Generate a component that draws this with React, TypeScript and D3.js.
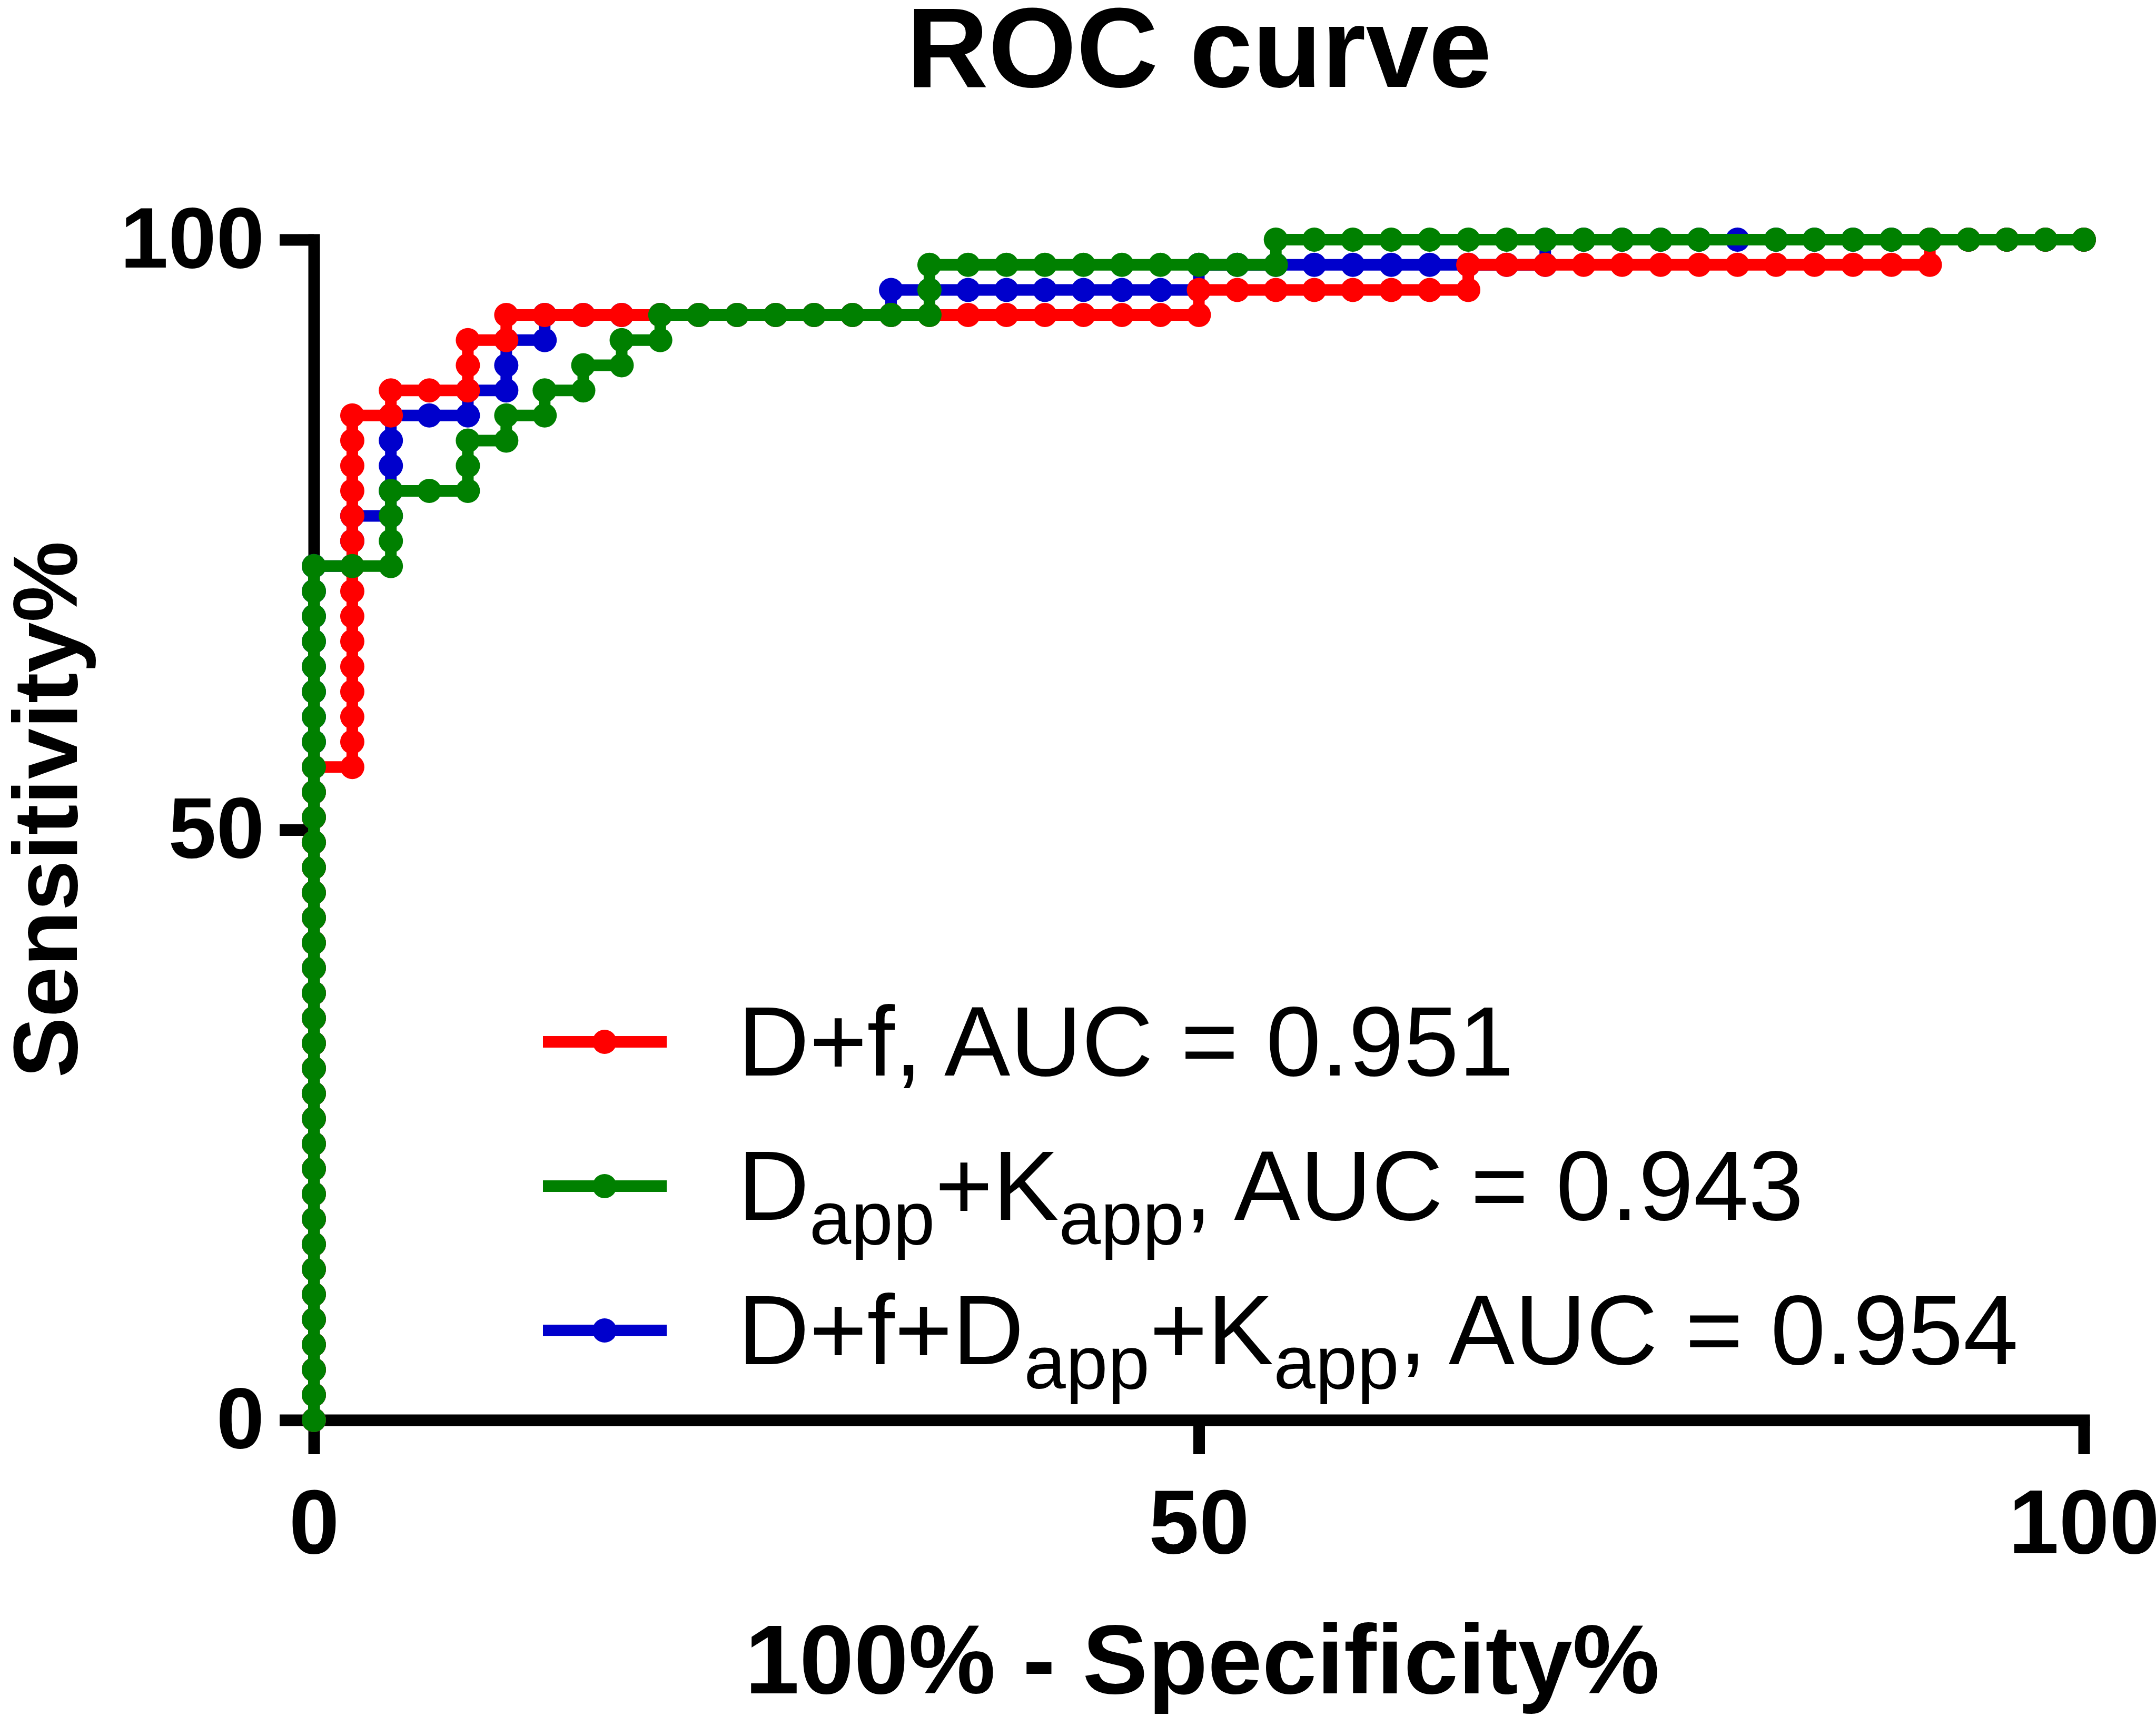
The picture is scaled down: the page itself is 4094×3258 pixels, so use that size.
import { useEffect, useRef } from 'react';
import * as d3 from 'd3';

type Pt = [number, number]; // [100% - Specificity%, Sensitivity%]

const WIDTH = 4094;
const HEIGHT = 3258;
const FONT = 'Liberation Sans, Arial, Helvetica, sans-serif';

const xTicks = [0, 50, 100];
const yTicks = [0, 50, 100];

// D+f (red)
const dfPoints: Pt[] = [
  [0, 0], [0, 2.13], [0, 4.26], [0, 6.38], [0, 8.51], [0, 10.64], [0, 12.77], [0, 14.89], [0, 17.02],
  [0, 19.15], [0, 21.28], [0, 23.4], [0, 25.53], [0, 27.66], [0, 29.79], [0, 31.91], [0, 34.04],
  [0, 36.17], [0, 38.3], [0, 40.43], [0, 42.55], [0, 44.68], [0, 46.81], [0, 48.94], [0, 51.06],
  [0, 53.19], [0, 55.32],
  [2.17, 55.32], [2.17, 57.45], [2.17, 59.57], [2.17, 61.7], [2.17, 63.83], [2.17, 65.96], [2.17, 68.09],
  [2.17, 70.21], [2.17, 72.34], [2.17, 74.47], [2.17, 76.6], [2.17, 78.72], [2.17, 80.85], [2.17, 82.98],
  [2.17, 85.11],
  [4.35, 85.11], [4.35, 87.23], [6.52, 87.23], [8.7, 87.23], [8.7, 89.36], [8.7, 91.49],
  [10.87, 91.49], [10.87, 93.62],
  [13.04, 93.62], [15.22, 93.62], [17.39, 93.62], [19.57, 93.62], [21.74, 93.62], [23.91, 93.62],
  [26.09, 93.62], [28.26, 93.62], [30.43, 93.62], [32.61, 93.62], [34.78, 93.62], [36.96, 93.62],
  [39.13, 93.62], [41.3, 93.62], [43.48, 93.62], [45.65, 93.62], [47.83, 93.62], [50.0, 93.62],
  [50.0, 95.74], [52.17, 95.74], [54.35, 95.74], [56.52, 95.74], [58.7, 95.74], [60.87, 95.74],
  [63.04, 95.74], [65.22, 95.74],
  [65.22, 97.87], [67.39, 97.87], [69.57, 97.87], [71.74, 97.87], [73.91, 97.87], [76.09, 97.87],
  [78.26, 97.87], [80.43, 97.87], [82.61, 97.87], [84.78, 97.87], [86.96, 97.87], [89.13, 97.87],
  [91.3, 97.87],
  [91.3, 100], [93.48, 100], [95.65, 100], [97.83, 100], [100, 100],
];

// Dapp+Kapp (green)
const dappKappPoints: Pt[] = [
  [0, 0], [0, 2.13], [0, 4.26], [0, 6.38], [0, 8.51], [0, 10.64], [0, 12.77], [0, 14.89], [0, 17.02],
  [0, 19.15], [0, 21.28], [0, 23.4], [0, 25.53], [0, 27.66], [0, 29.79], [0, 31.91], [0, 34.04],
  [0, 36.17], [0, 38.3], [0, 40.43], [0, 42.55], [0, 44.68], [0, 46.81], [0, 48.94], [0, 51.06],
  [0, 53.19], [0, 55.32], [0, 57.45], [0, 59.57], [0, 61.7], [0, 63.83], [0, 65.96], [0, 68.09],
  [0, 70.21], [0, 72.34],
  [2.17, 72.34], [4.35, 72.34], [4.35, 74.47], [4.35, 76.6], [4.35, 78.72],
  [6.52, 78.72], [8.7, 78.72], [8.7, 80.85], [8.7, 82.98],
  [10.87, 82.98], [10.87, 85.11], [13.04, 85.11], [13.04, 87.23], [15.22, 87.23], [15.22, 89.36],
  [17.39, 89.36], [17.39, 91.49], [19.57, 91.49], [19.57, 93.62],
  [21.74, 93.62], [23.91, 93.62], [26.09, 93.62], [28.26, 93.62], [30.43, 93.62], [32.61, 93.62],
  [34.78, 93.62], [34.78, 95.74], [34.78, 97.87],
  [36.96, 97.87], [39.13, 97.87], [41.3, 97.87], [43.48, 97.87], [45.65, 97.87], [47.83, 97.87],
  [50.0, 97.87], [52.17, 97.87], [54.35, 97.87],
  [54.35, 100], [56.52, 100], [58.7, 100], [60.87, 100], [63.04, 100], [65.22, 100], [67.39, 100],
  [69.57, 100], [71.74, 100], [73.91, 100], [76.09, 100], [78.26, 100],
  [82.61, 100], [84.78, 100], [86.96, 100], [89.13, 100], [91.3, 100], [93.48, 100], [95.65, 100],
  [97.83, 100], [100, 100],
];

// D+f+Dapp+Kapp (blue)
const combinedPoints: Pt[] = [
  [0, 0], [0, 2.13], [0, 4.26], [0, 6.38], [0, 8.51], [0, 10.64], [0, 12.77], [0, 14.89], [0, 17.02],
  [0, 19.15], [0, 21.28], [0, 23.4], [0, 25.53], [0, 27.66], [0, 29.79], [0, 31.91], [0, 34.04],
  [0, 36.17], [0, 38.3], [0, 40.43], [0, 42.55], [0, 44.68], [0, 46.81], [0, 48.94], [0, 51.06],
  [0, 53.19], [0, 55.32], [0, 57.45], [0, 59.57], [0, 61.7], [0, 63.83], [0, 65.96], [0, 68.09],
  [0, 70.21], [0, 72.34],
  [2.17, 72.34], [2.17, 74.47], [2.17, 76.6],
  [4.35, 76.6], [4.35, 78.72], [4.35, 80.85], [4.35, 82.98], [4.35, 85.11],
  [6.52, 85.11], [8.7, 85.11], [8.7, 87.23],
  [10.87, 87.23], [10.87, 89.36], [10.87, 91.49],
  [13.04, 91.49], [13.04, 93.62],
  [15.22, 93.62], [17.39, 93.62], [19.57, 93.62], [21.74, 93.62], [23.91, 93.62], [26.09, 93.62],
  [28.26, 93.62], [30.43, 93.62], [32.61, 93.62],
  [32.61, 95.74], [34.78, 95.74], [36.96, 95.74], [39.13, 95.74], [41.3, 95.74], [43.48, 95.74],
  [45.65, 95.74], [47.83, 95.74], [50.0, 95.74],
  [50.0, 97.87], [52.17, 97.87], [54.35, 97.87], [56.52, 97.87], [58.7, 97.87], [60.87, 97.87],
  [63.04, 97.87], [65.22, 97.87], [67.39, 97.87], [69.57, 97.87],
  [69.57, 100], [71.74, 100], [73.91, 100], [76.09, 100], [78.26, 100], [80.43, 100], [82.61, 100],
  [84.78, 100], [86.96, 100], [89.13, 100], [91.3, 100], [93.48, 100], [95.65, 100], [97.83, 100],
  [100, 100],
];

const seriesColors = ['#ff0000', '#008000', '#0000cc'];
const aucValues = ['0.951', '0.943', '0.954'];
// label pieces, true = subscript
const seriesLabels: [string, boolean][][] = [
  [['D+f', false]],
  [['D', false], ['app', true], ['+K', false], ['app', true]],
  [['D+f+D', false], ['app', true], ['+K', false], ['app', true]],
];

export default function App() {
  const svgRef = useRef<SVGSVGElement>(null);

  useEffect(() => {
    document.body.style.margin = '0';
    document.body.style.overflow = 'hidden';
    if (!svgRef.current) return;

    const svg = d3.select(svgRef.current);
    svg.selectAll('*').remove();

    const x = d3.scaleLinear().domain([0, 100]).range([596, 3957]);
    const y = d3.scaleLinear().domain([0, 100]).range([2696, 455]);

    svg.append('rect').attr('width', WIDTH).attr('height', HEIGHT).attr('fill', '#ffffff');

    // Title
    svg.append('text')
      .attr('x', 2277)
      .attr('y', 165)
      .attr('text-anchor', 'middle')
      .attr('font-family', FONT)
      .attr('font-weight', 'bold')
      .attr('font-size', 215)
      .text('ROC curve');

    // Axes
    const styleAxis = (fontSize: number) => (g: d3.Selection<SVGGElement, unknown, null, undefined>) => {
      g.attr('font-family', FONT).attr('font-size', fontSize).attr('font-weight', 'bold');
      g.select('.domain').attr('stroke', '#000').attr('stroke-width', 22).attr('stroke-linecap', 'square');
      g.selectAll('.tick line').attr('stroke', '#000').attr('stroke-width', 22);
      g.selectAll('.tick text').attr('fill', '#000');
    };

    svg.append('g')
      .attr('transform', 'translate(0,2696)')
      .call(d3.axisBottom(x).tickValues(xTicks).tickSize(65).tickSizeOuter(0).tickPadding(66))
      .call(styleAxis(172));

    svg.append('g')
      .attr('transform', 'translate(596,0)')
      .call(d3.axisLeft(y).tickValues(yTicks).tickSize(65).tickSizeOuter(0).tickPadding(29))
      .call(styleAxis(164));

    // Axis titles
    svg.append('text')
      .attr('x', 2283)
      .attr('y', 3215)
      .attr('text-anchor', 'middle')
      .attr('font-family', FONT)
      .attr('font-weight', 'bold')
      .attr('font-size', 186)
      .text('100% - Specificity%');

    svg.append('text')
      .attr('transform', 'translate(146,1537) rotate(-90)')
      .attr('text-anchor', 'middle')
      .attr('font-family', FONT)
      .attr('font-weight', 'bold')
      .attr('font-size', 173)
      .text('Sensitivity%');

    // Curves: blue at the back, green on top
    const line = d3.line<Pt>().x((d) => x(d[0])).y((d) => y(d[1]));
    const series = [dfPoints, dappKappPoints, combinedPoints];
    [2, 0, 1].forEach((k) => {
      const grp = svg.append('g');
      grp.append('path')
        .datum(series[k])
        .attr('d', line)
        .attr('fill', 'none')
        .attr('stroke', seriesColors[k])
        .attr('stroke-width', 22);
      grp.selectAll('circle')
        .data(series[k])
        .enter()
        .append('circle')
        .attr('cx', (d) => x(d[0]))
        .attr('cy', (d) => y(d[1]))
        .attr('r', 23)
        .attr('fill', seriesColors[k]);
    });

    // Legend
    const legendY = [1978, 2252, 2526];
    seriesLabels.forEach((parts, i) => {
      const lg = svg.append('g').attr('transform', `translate(0,${legendY[i]})`);
      lg.append('line')
        .attr('x1', 1031)
        .attr('x2', 1266)
        .attr('stroke', seriesColors[i])
        .attr('stroke-width', 22);
      lg.append('circle').attr('cx', 1148).attr('r', 23).attr('fill', seriesColors[i]);

      const t = lg.append('text')
        .attr('x', 1401)
        .attr('y', 64)
        .attr('font-family', FONT)
        .attr('font-size', 188)
        .attr('fill', '#000');
      let lowered = false;
      parts.forEach(([s, sub]) => {
        const ts = t.append('tspan').text(s);
        if (sub) {
          ts.attr('font-size', 143);
          if (!lowered) ts.attr('dy', 46);
          lowered = true;
        } else if (lowered) {
          ts.attr('dy', -46);
          lowered = false;
        }
      });
      const tail = t.append('tspan').text(`, AUC = ${aucValues[i]}`);
      if (lowered) tail.attr('dy', -46);
    });
  }, []);

  return <svg ref={svgRef} width={WIDTH} height={HEIGHT} style={{ display: 'block' }} />;
}
